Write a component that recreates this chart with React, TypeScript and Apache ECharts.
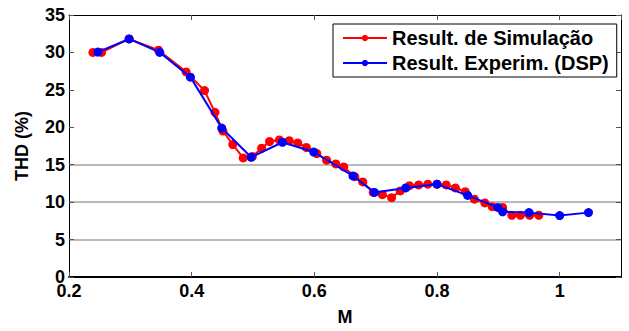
import React, { useEffect, useRef } from "react";
import * as echarts from "echarts";

const simM = [0.239, 0.253, 0.298, 0.346, 0.391, 0.421, 0.438, 0.451, 0.467, 0.484, 0.499, 0.514, 0.527, 0.543, 0.559, 0.573, 0.587, 0.604, 0.62, 0.635, 0.648, 0.666, 0.679, 0.696, 0.711, 0.726, 0.74, 0.755, 0.77, 0.785, 0.8, 0.815, 0.83, 0.846, 0.861, 0.878, 0.89, 0.907, 0.922, 0.936, 0.951, 0.966];
const simTHD = [30.0, 30.0, 31.8, 30.3, 27.4, 24.9, 22.0, 19.5, 17.7, 15.9, 16.1, 17.2, 18.1, 18.3, 18.2, 17.9, 17.3, 16.5, 15.6, 15.1, 14.7, 13.4, 12.7, 11.3, 11.0, 10.6, 11.5, 12.2, 12.3, 12.4, 12.4, 12.3, 11.9, 11.4, 10.4, 9.9, 9.4, 9.3, 8.25, 8.25, 8.25, 8.25];

const expM = [0.247, 0.298, 0.348, 0.398, 0.449, 0.497, 0.548, 0.599, 0.663, 0.698, 0.749, 0.8, 0.85, 0.899, 0.907, 0.95, 1.0, 1.047];
const expTHD = [30.05, 31.8, 30.0, 26.7, 19.9, 16.0, 18.0, 16.7, 13.5, 11.3, 11.9, 12.4, 10.9, 9.3, 8.7, 8.6, 8.2, 8.6];

const gridYValues = [5, 10, 15];
const seriesNames = ["Result. de Simulação", "Result. Experim. (DSP)"];

const FONT = "'Liberation Sans', Arial, sans-serif";

export default function App() {
  const ref = useRef<HTMLDivElement>(null);
  useEffect(() => {
    if (!ref.current) return;
    const chart = echarts.init(ref.current, null, { renderer: "svg" });
    const splitColors = [0, 5, 10, 15, 20, 25, 30, 35].map((v) =>
      gridYValues.includes(v) ? "#a0a0a0" : "rgba(0,0,0,0)"
    );
    chart.setOption({
      animation: false,
      backgroundColor: "#ffffff",
      grid: { left: 69, right: 8, top: 15, bottom: 49, containLabel: false },
      legend: {
        data: seriesNames,
        orient: "vertical",
        left: 333,
        top: 24,
        padding: [4, 8, 4, 9],
        itemGap: 5,
        itemWidth: 44,
        itemHeight: 8,
        backgroundColor: "#ffffff",
        borderColor: "#000000",
        borderWidth: 1,
        textStyle: { fontFamily: FONT, fontWeight: "bold", fontSize: 20, color: "#000" },
      },
      xAxis: [
        {
          type: "value",
          min: 0.2,
          max: 1.1,
          interval: 0.2,
          name: "M",
          nameLocation: "middle",
          nameGap: 31,
          nameTextStyle: { fontFamily: FONT, fontWeight: "bold", fontSize: 18, color: "#000" },
          axisLine: { show: true, onZero: false, lineStyle: { color: "#000", width: 2 } },
          axisTick: { show: true, inside: true, length: 5, lineStyle: { color: "#555", width: 1 } },
          axisLabel: { showMaxLabel: false, margin: 5, fontFamily: FONT, fontWeight: "bold", fontSize: 18, color: "#000" },
          splitLine: { show: false },
        },
        {
          type: "value",
          position: "top",
          min: 0.2,
          max: 1.1,
          interval: 0.2,
          axisLine: { show: true, onZero: false, lineStyle: { color: "#000", width: 1 } },
          axisTick: { show: true, inside: true, length: 5, lineStyle: { color: "#555", width: 1 } },
          axisLabel: { show: false },
          splitLine: { show: false },
        },
      ],
      yAxis: [
        {
          type: "value",
          min: 0,
          max: 35,
          interval: 5,
          name: "THD (%)",
          nameLocation: "middle",
          nameGap: 38,
          nameTextStyle: { fontFamily: FONT, fontWeight: "bold", fontSize: 18, color: "#000" },
          axisLine: { show: true, onZero: false, lineStyle: { color: "#000", width: 1 } },
          axisTick: { show: true, inside: true, length: 5, lineStyle: { color: "#555", width: 1 } },
          axisLabel: { margin: 4, fontFamily: FONT, fontWeight: "bold", fontSize: 18, color: "#000" },
          splitLine: { show: true, lineStyle: { color: splitColors, width: 1.5 } },
        },
        {
          type: "value",
          position: "right",
          min: 0,
          max: 35,
          interval: 5,
          axisLine: { show: true, onZero: false, lineStyle: { color: "#000", width: 1 } },
          axisTick: { show: true, inside: true, length: 5, lineStyle: { color: "#555", width: 1 } },
          axisLabel: { show: false },
          splitLine: { show: false },
        },
      ],
      series: [
        {
          name: seriesNames[0],
          type: "line",
          data: simM.map((m, i) => [m, simTHD[i]]),
          symbol: "circle",
          symbolSize: 9,
          color: "#ff0000",
          lineStyle: { color: "#ff0000", width: 2 },
          itemStyle: { color: "#ff0000" },
          z: 3,
        },
        {
          name: seriesNames[1],
          type: "line",
          data: expM.map((m, i) => [m, expTHD[i]]),
          symbol: "circle",
          symbolSize: 9,
          color: "#0000ff",
          lineStyle: { color: "#0000ff", width: 2 },
          itemStyle: { color: "#0000ff" },
          z: 4,
        },
      ],
    });
    return () => chart.dispose();
  }, []);
  return (
    <div
      ref={ref}
      style={{ position: "fixed", left: 0, top: 0, width: 629, height: 331, background: "#fff" }}
    />
  );
}
